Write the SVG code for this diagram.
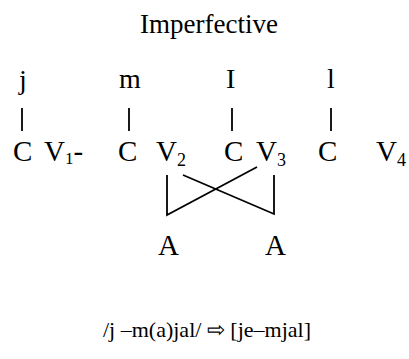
<svg xmlns="http://www.w3.org/2000/svg" width="409" height="359" viewBox="0 0 409 359">
<rect width="409" height="359" fill="#fff"/>
<g id="title"><text x="140" y="33" font-family="Liberation Serif" font-size="27">Imperfective</text></g>
<g id="j"><text x="19" y="89" font-family="Liberation Serif" font-size="28">j</text></g>
<g id="m"><text x="119" y="88" font-family="Liberation Serif" font-size="28">m</text></g>
<g id="I"><text x="226" y="88" font-family="Liberation Serif" font-size="28">I</text></g>
<g id="l"><text x="327" y="88" font-family="Liberation Serif" font-size="28">l</text></g>
<g id="C1"><text x="13" y="161" font-family="Liberation Serif" font-size="29">C</text></g>
<g id="V1"><text x="44" y="161" font-family="Liberation Serif" font-size="29">V<tspan font-size="17" dy="3">1</tspan><tspan dy="-3">-</tspan></text></g>
<g id="C2"><text x="118" y="161" font-family="Liberation Serif" font-size="29">C</text></g>
<g id="V2"><text x="156" y="161" font-family="Liberation Serif" font-size="29">V<tspan font-size="18" dy="5">2</tspan></text></g>
<g id="C3"><text x="224" y="161" font-family="Liberation Serif" font-size="29">C</text></g>
<g id="V3"><text x="256" y="161" font-family="Liberation Serif" font-size="29">V<tspan font-size="18" dy="5">3</tspan></text></g>
<g id="C4"><text x="318" y="161" font-family="Liberation Serif" font-size="29">C</text></g>
<g id="V4"><text x="376" y="161" font-family="Liberation Serif" font-size="29">V<tspan font-size="18" dy="5">4</tspan></text></g>
<g id="A1"><text x="158" y="255" font-family="Liberation Serif" font-size="29">A</text></g>
<g id="A2"><text x="265" y="255" font-family="Liberation Serif" font-size="29">A</text></g>
<g id="formula"><text x="103" y="337" font-family="Liberation Serif" font-size="22">/j –m(a)jal/ ⇨ [je–mjal]</text></g>
<g id="connectors" stroke="#000" stroke-width="1.8" fill="none">
<line x1="22" y1="108" x2="22" y2="131"/>
<line x1="129" y1="108" x2="129" y2="131"/>
<line x1="232" y1="108" x2="232" y2="131"/>
<line x1="331" y1="108" x2="331" y2="131"/>
<polyline points="167,175 167,215 257,167"/>
<polyline points="274,175 274,214 183,175"/>
</g>
</svg>
